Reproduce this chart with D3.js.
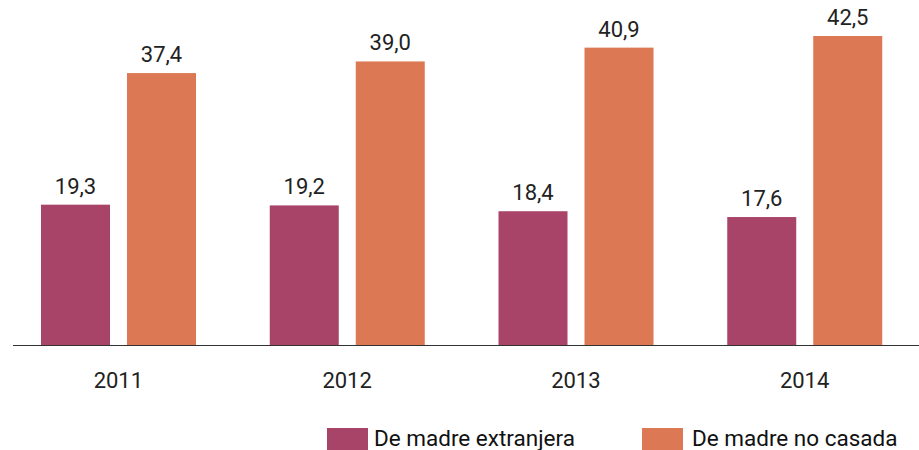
<!DOCTYPE html>
<html>
<head>
<meta charset="utf-8">
<script src="https://cdn.jsdelivr.net/npm/d3@7"></script>
<style>
  html, body { margin: 0; padding: 0; background: #fff; }
  svg { display: block; }
</style>
</head>
<body>
<div id="chart"></div>
<script>
// Data
const years = ['2011', '2012', '2013', '2014'];
const seriesNames = ['De madre extranjera', 'De madre no casada'];
const extranjera = [19.3, 19.2, 18.4, 17.6];
const noCasada = [37.4, 39.0, 40.9, 42.5];
const seriesColors = ['#a84468', '#dc7853'];

const width = 919;
const height = 450;
const baseY = 345;
const fontFamily = 'Roboto, "Liberation Sans", sans-serif';

const rows = years.map((yr, i) => ({ year: yr, values: [extranjera[i], noCasada[i]] }));

const svg = d3.select('#chart')
  .append('svg')
  .attr('width', width)
  .attr('height', height)
  .style('font-family', fontFamily);

// Title, almost entirely cut off at the top edge
svg.append('text')
  .attr('x', 2)
  .attr('y', -3)
  .style('font-size', '17px')
  .style('fill', '#888')
  .text('En porcentaje, %');

const x0 = d3.scaleBand()
  .domain(years)
  .range([4, 919])
  .padding(0);

const x1 = d3.scaleBand()
  .domain([0, 1])
  .range([37, 192])
  .paddingInner(0.1977)
  .paddingOuter(0);

const y = d3.scaleLinear()
  .domain([0, 42.5])
  .range([baseY, 36]);

const fmt = v => d3.format('.1f')(v).replace('.', ',');

const groups = svg.selectAll('.group')
  .data(rows)
  .join('g')
  .attr('class', 'group')
  .attr('transform', d => `translate(${x0(d.year)},0)`);

groups.selectAll('rect')
  .data(d => d.values.map((v, k) => ({ v, k })))
  .join('rect')
  .attr('x', d => x1(d.k))
  .attr('y', d => y(d.v))
  .attr('width', x1.bandwidth())
  .attr('height', d => baseY - y(d.v))
  .attr('fill', d => seriesColors[d.k]);

groups.selectAll('.val')
  .data(d => d.values.map((v, k) => ({ v, k })))
  .join('text')
  .attr('class', 'val')
  .attr('x', d => x1(d.k) + x1.bandwidth() / 2)
  .attr('y', d => y(d.v) - 11)
  .attr('text-anchor', 'middle')
  .style('font-size', '22px')
  .style('fill', '#222')
  .text(d => fmt(d.v));

// X axis
const xAxis = svg.append('g')
  .attr('transform', `translate(0,${baseY})`)
  .call(d3.axisBottom(x0).tickSize(0));

xAxis.select('.domain')
  .attr('d', `M13,0.5H${width}`)
  .attr('stroke', '#333')
  .attr('stroke-width', 1.2);

xAxis.selectAll('text')
  .attr('y', 43)
  .attr('dy', null)
  .style('font-size', '22px')
  .style('font-family', fontFamily)
  .style('fill', '#222');

// Legend
const legendX = [327, 642];
const legend = svg.append('g');
seriesNames.forEach((name, i) => {
  const item = legend.append('g')
    .attr('transform', `translate(${legendX[i]},428)`);
  item.append('rect')
    .attr('width', 41)
    .attr('height', 22)
    .attr('fill', seriesColors[i]);
  item.append('text')
    .attr('x', i === 0 ? 47 : 50)
    .attr('y', 18)
    .style('font-size', '22.5px')
    .style('fill', '#111')
    .text(name);
});
</script>
</body>
</html>
